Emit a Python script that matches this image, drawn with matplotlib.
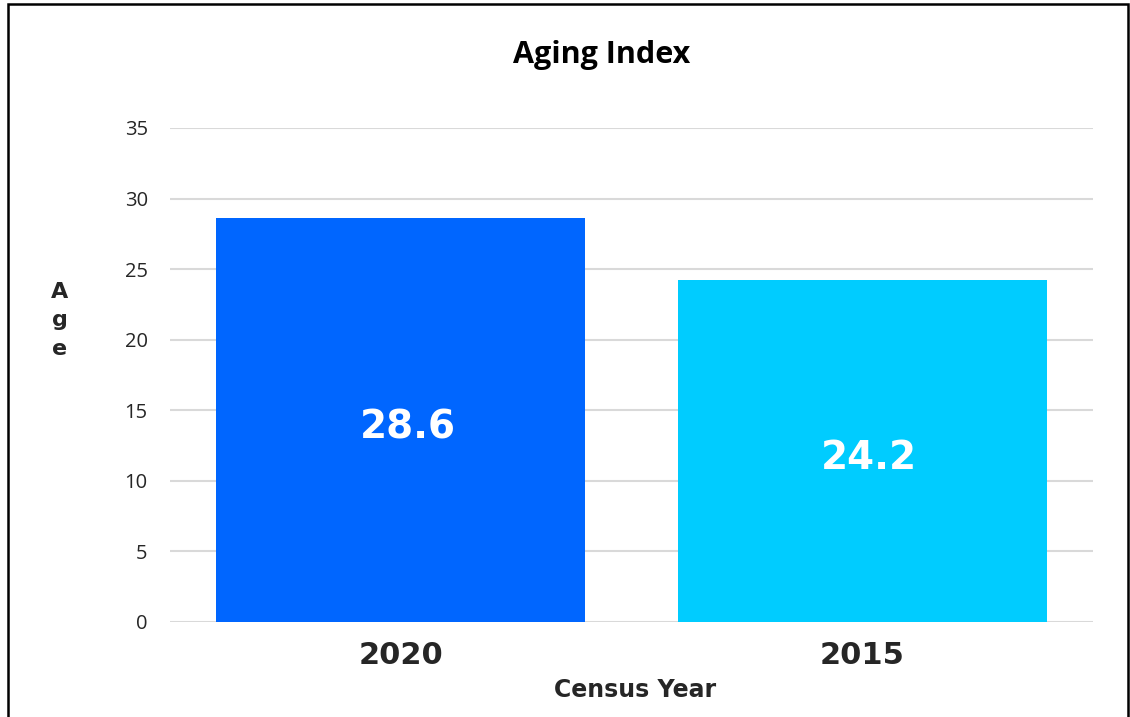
import matplotlib.pyplot as plt
from matplotlib.patches import Rectangle

years = ["2020", "2015"]
ages = [28.6, 24.2]
bar_colors = ["#0066FF", "#00CCFF"]
yticks = [0, 5, 10, 15, 20, 25, 30, 35]

heavy = "DejaVu Sans"

fig = plt.figure(figsize=(11.3, 7.17), dpi=100)
ax = fig.add_axes([0.1504, 0.1325, 0.8168, 0.689])

x = range(len(years))
bars = ax.bar(x, ages, width=0.8, color=bar_colors, zorder=2)
ax.set_xlim(-0.5, 1.5)
ax.set_ylim(0, 35)
ax.set_yticks(yticks)
ax.set_xticks(list(x))
ax.set_xticklabels(years, fontfamily=heavy, fontweight="bold", fontsize=22, color="#262626")
for lbl in ax.get_yticklabels():
    lbl.set_fontfamily("Open Sans")
    lbl.set_fontsize(14.5)
    lbl.set_color("#262626")
ax.tick_params(axis="both", length=0)
ax.tick_params(axis="y", pad=16)
ax.tick_params(axis="x", pad=14)
ax.grid(axis="y", color="#D9D9D9", lw=1.5, zorder=0)
for s in ax.spines.values():
    s.set_visible(False)

# value labels sit a touch right of and below the bar middle
for b, v in zip(bars, ages):
    ax.annotate(f"{v}", (b.get_x() + b.get_width() / 2, v / 2), xytext=(5, -5),
                textcoords="offset points", ha="center", va="center",
                color="white", fontfamily=heavy, fontweight="bold", fontsize=28)

fig.text(0.532, 0.923, "Aging Index", ha="center", va="center",
         fontfamily="Open Sans", fontweight="bold", fontsize=22, color="black")
fig.text(0.562, 0.038, "Census Year", ha="center", va="center",
         fontfamily=heavy, fontweight="bold", fontsize=17, color="#262626")
fig.text(0.053, 0.553, "A\ng\ne", ha="center", va="center", linespacing=1.55,
         fontfamily=heavy, fontweight="bold", fontsize=16, color="#262626")

fig.patches.append(Rectangle((8 / 1130, -0.05), 1120 / 1130, 1 - 4 / 717 + 0.05,
                             transform=fig.transFigure, fill=False, edgecolor="black", lw=1.8))

fig.savefig("out.png", dpi=100)
